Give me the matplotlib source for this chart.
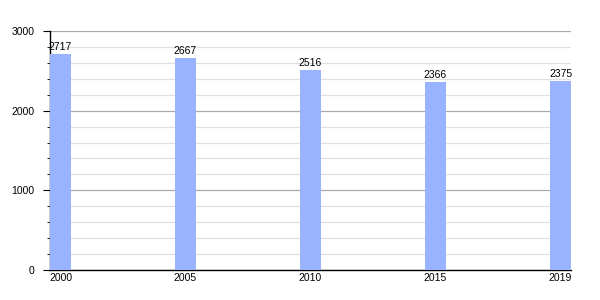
import matplotlib
matplotlib.use("Agg")
import matplotlib.pyplot as plt
from matplotlib.ticker import MultipleLocator

years = ["2000", "2005", "2010", "2015", "2019"]
population = [2717, 2667, 2516, 2366, 2375]

plt.rcParams['font.family'] = ['Liberation Sans', 'DejaVu Sans']

fig = plt.figure(figsize=(6, 3), dpi=100)
ax = fig.add_axes([50/600, 30/300, 521/600, 239/300])

bw = 0.168
x = list(range(len(years)))
bars = ax.bar(x, population, width=bw, align='edge', color='#99b3ff', zorder=3)
for xi, v in zip(x, population):
    ax.text(xi + bw/2, v + 25, str(v), ha='center', va='bottom', fontsize=7.5, zorder=4)

ax.set_xlim(0, 4 + bw)
ax.set_ylim(0, 3000)
ax.set_xticks([xi + bw/2 for xi in x])
ax.set_xticklabels(years, fontsize=7.5)
ax.tick_params(axis='x', length=0, pad=2)
ax.yaxis.set_major_locator(MultipleLocator(1000))
ax.yaxis.set_minor_locator(MultipleLocator(200))
ax.tick_params(axis='y', which='major', length=5, labelsize=7.5, pad=6)
ax.tick_params(axis='y', which='minor', length=2.5)
ax.grid(axis='y', which='major', color='#aaaaaa', linewidth=0.9, zorder=1)
ax.grid(axis='y', which='minor', color='#e0e0e0', linewidth=0.9, zorder=1)
for s in ['top', 'right']:
    ax.spines[s].set_visible(False)
ax.spines['left'].set_linewidth(1)
ax.spines['bottom'].set_linewidth(1)

fig.savefig("out.png", dpi=100)
